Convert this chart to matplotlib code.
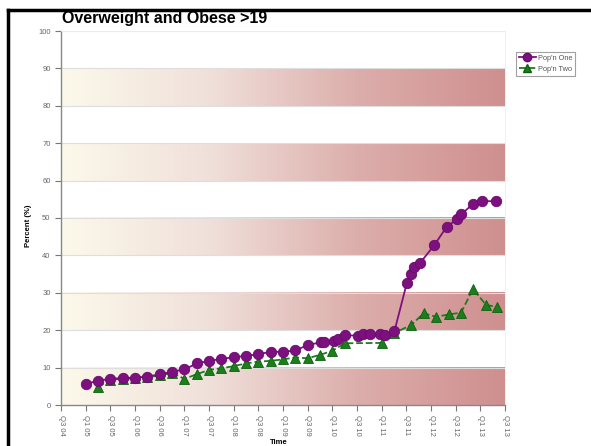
import numpy as np
import matplotlib
matplotlib.use('Agg')
import matplotlib.pyplot as plt
from matplotlib.colors import LinearSegmentedColormap
from matplotlib.lines import Line2D

plt.rcParams['font.family'] = ['Liberation Sans', 'DejaVu Sans']

# time in decimal years (Q1 = .0, Q2 = .25, Q3 = .5, Q4 = .75)
time_one = [2005.0, 2005.25, 2005.5, 2005.75, 2006.0, 2006.25, 2006.5, 2006.75,
            2007.0, 2007.25, 2007.5, 2007.75, 2008.0, 2008.25, 2008.5, 2008.75,
            2009.0, 2009.25, 2009.5, 2009.77, 2009.84, 2010.04, 2010.11, 2010.25,
            2010.52, 2010.63, 2010.77, 2010.97, 2011.06, 2011.26, 2011.51, 2011.6,
            2011.66, 2011.78, 2012.07, 2012.32, 2012.52, 2012.61, 2012.85, 2013.04,
            2013.31]
pop_one = [5.6, 6.5, 7.0, 7.2, 7.3, 7.6, 8.2, 8.9,
           9.5, 11.1, 11.8, 12.3, 12.8, 13.1, 13.6, 14.2,
           14.2, 14.6, 16.0, 16.8, 16.9, 17.2, 17.6, 18.7,
           18.5, 19.0, 18.9, 18.9, 18.7, 19.8, 32.6, 35.0,
           36.8, 38.0, 42.8, 47.7, 49.6, 51.0, 53.7, 54.5,
           54.5]

time_two = [2005.25, 2005.5, 2005.75, 2006.0, 2006.25, 2006.5, 2006.75,
            2007.0, 2007.25, 2007.5, 2007.75, 2008.0, 2008.25, 2008.5, 2008.75,
            2009.0, 2009.25, 2009.5, 2009.75, 2010.0, 2010.25, 2011.0, 2011.25,
            2011.6, 2011.85, 2012.1, 2012.36, 2012.61, 2012.85, 2013.12, 2013.33]
pop_two = [4.8, 6.8, 7.0, 7.1, 7.4, 7.9, 8.6,
           7.0, 8.2, 9.4, 9.8, 10.4, 11.1, 11.6, 11.8,
           12.2, 12.7, 12.5, 13.4, 14.5, 16.5, 16.6, 19.2,
           21.4, 24.5, 23.6, 24.2, 24.7, 31.0, 26.7, 26.3]

tick_pos = np.arange(2004.5, 2013.51, 0.5)
tick_lab = [('Q1 ' if t % 1 == 0 else 'Q3 ') + '%02d' % (int(t) % 100) for t in tick_pos]

band_cmap = LinearSegmentedColormap.from_list(
    'band', ['#fcf9ea', '#f0e0da', '#dcaeab', '#cf8f8f'])

fig = plt.figure(figsize=(5.91, 4.46), dpi=100)
ax = fig.add_axes([61/591, 41/446, 444/591, 374/446])

x0, x1 = 2004.5, 2013.5
grad = np.linspace(0, 1, 256).reshape(1, -1)
for lo in range(0, 100, 20):
    ax.imshow(grad, cmap=band_cmap, aspect='auto', extent=[x0, x1, lo, lo + 10],
              zorder=0, interpolation='bilinear')

for yv in range(10, 101, 10):
    ax.axhline(yv, color='#dedede', lw=0.8, zorder=1)

ax.plot(time_two, pop_two, color='#1b7d1b', ls='--', lw=1.3, marker='^',
        markersize=7, markeredgecolor='#0f5f0f', markeredgewidth=0.6, zorder=3,
        label="Pop'n Two")
ax.plot(time_one, pop_one, color='#7d107f', lw=1.3, marker='o',
        markersize=7.5, markeredgecolor='#6a0a6c', markeredgewidth=0.6, zorder=4,
        label="Pop'n One")

ax.set_xlim(x0, x1)
ax.set_ylim(0, 100)
ax.set_yticks(range(0, 101, 10))
ax.set_xticks(tick_pos)
ax.set_xticklabels(tick_lab, rotation=-90)
ax.tick_params(axis='both', colors='#777777', labelsize=5.5, length=4, width=0.8,
               labelcolor='#666666')
ax.tick_params(axis='x', pad=3)

for side in ['top', 'right']:
    ax.spines[side].set_color('#eeeeee')
    ax.spines[side].set_linewidth(0.6)
for side in ['left', 'bottom']:
    ax.spines[side].set_color('#888888')
    ax.spines[side].set_linewidth(1.0)

ax.set_xlabel('Time', fontsize=5.5, fontweight='bold')
ax.xaxis.set_label_coords(0.49, -0.09)
ax.set_ylabel('Percent (%)', fontsize=5.5, fontweight='bold')
ax.yaxis.set_label_coords(-0.065, 0.48)

fig.text(62/591, 1 - 18/446, 'Overweight and Obese >19', fontsize=11.5,
         fontweight='bold', va='center', ha='left')

handles = [Line2D([], [], color='#7d107f', lw=1.3, marker='o', markersize=6,
                  markeredgecolor='#6a0a6c'),
           Line2D([], [], color='#1b7d1b', lw=1.3, ls='--', marker='^', markersize=6,
                  markeredgecolor='#0f5f0f')]
leg = fig.legend(handles, ["Pop'n One", "Pop'n Two"], loc='upper left',
                 bbox_to_anchor=(516/591, 1 - 52/446), fontsize=5.3, frameon=True,
                 fancybox=False, handlelength=2.3, handletextpad=0.3,
                 borderpad=0.35, labelspacing=0.55, borderaxespad=0)
leg.get_frame().set_edgecolor('#888888')
leg.get_frame().set_linewidth(0.8)
for t in leg.get_texts():
    t.set_color('#555555')

# black frame on the left and top edges
fig.add_artist(Line2D([8/591, 8/591], [0, 1 - 10/446], color='black', lw=2.5,
                      transform=fig.transFigure))
fig.add_artist(Line2D([8/591, 1], [1 - 10/446, 1 - 10/446], color='black', lw=2.5,
                      transform=fig.transFigure))

fig.savefig('out.png', dpi=100)
